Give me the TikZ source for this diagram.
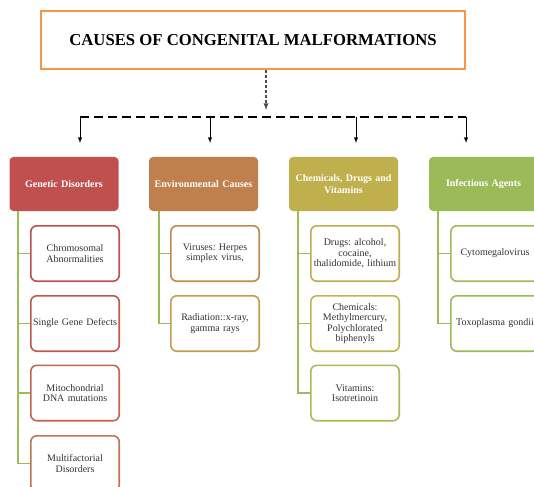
\documentclass[tikz,border=0pt]{standalone}
\usepackage{fontspec}
\setmainfont{Liberation Serif}
\usetikzlibrary{positioning, arrows, calc}
\frenchspacing

\definecolor{titleorange}{HTML}{F79646}
\definecolor{genred}{HTML}{C0504D}
\definecolor{envbrown}{HTML}{C0804D}
\definecolor{chemolive}{HTML}{BFB04D}
\definecolor{infgreen}{HTML}{9BBB59}
\definecolor{leaftext}{HTML}{333333}
% leaf borders, red to green
\definecolor{edgeA}{HTML}{C0504D}
\definecolor{edgeB}{HTML}{C0584D}
\definecolor{edgeC}{HTML}{C0664D}
\definecolor{edgeD}{HTML}{C0744D}
\definecolor{edgeE}{HTML}{C08A4D}
\definecolor{edgeF}{HTML}{C09E4D}
\definecolor{edgeG}{HTML}{BFAC4D}
\definecolor{edgeH}{HTML}{B9B84F}
\definecolor{edgeI}{HTML}{A8BB55}
\definecolor{edgeJ}{HTML}{9FBB59}
\definecolor{edgeK}{HTML}{9BBB59}

\tikzset{
  head/.style={rectangle, rounded corners=4pt, minimum width=109pt, minimum height=54pt,
    text width=104pt, align=center, text=white, inner sep=1pt,
    font=\bfseries\fontsize{10}{11.5}\selectfont},
  leaf/.style={rectangle, rounded corners=6pt, draw=#1, line width=1.6pt, fill=white,
    minimum width=88.4pt, minimum height=55.4pt, text width=86pt, align=center,
    text=leaftext, inner sep=1pt, font=\fontsize{10}{10.5}\selectfont},
  branch/.style={draw=infgreen, line width=1.8pt},
}

\begin{document}
\begin{tikzpicture}[x=1pt, y=-1pt]
\clip (0,0) rectangle (534,486);

% title and the dashed fan-out
\node [rectangle, draw=titleorange, line width=1.6pt, minimum width=424pt, minimum height=58pt,
  font=\bfseries\fontsize{16.7}{18}\selectfont] (title) at (253,40) {CAUSES OF CONGENITAL MALFORMATIONS};
\coordinate (hub) at (266,110);
\coordinate (bus-gen) at (80,117);
\coordinate (bus-env) at (210,117);
\coordinate (bus-chem) at (356,117);
\coordinate (bus-inf) at (466,117);
\coordinate (tip-gen) at (80,143);
\coordinate (tip-env) at (210,143);
\coordinate (tip-chem) at (356,143);
\coordinate (tip-inf) at (466,143);
\draw [-latex, black!70, line width=1.3pt, dash pattern=on 3pt off 2pt] (title.south -| hub) -- (hub);
\draw [black, line width=1.8pt, dash pattern=on 9pt off 5pt] (bus-gen) -- (bus-inf);
\draw [-latex, line width=0.9pt] (bus-gen) -- (tip-gen);
\draw [-latex, line width=0.9pt] (bus-env) -- (tip-env);
\draw [-latex, line width=0.9pt] (bus-chem) -- (tip-chem);
\draw [-latex, line width=0.9pt] (bus-inf) -- (tip-inf);

% column heads
\node [head, fill=genred] (gen) at (64,184) {Genetic Disorders};
\node [head, fill=envbrown] (env) at (203.5,184) {Environmental Causes};
\node [head, fill=chemolive] (chem) at (343.5,184) {Chemicals, Drugs and\\Vitamins};
\node [head, fill=infgreen] (inf) at (483.5,184) {Infectious Agents};

% genetic
\node [leaf=edgeA] (gen1) at (75,253.5) {Chromosomal\\Abnormalities};
\node [leaf=edgeB] (gen2) at (75,323.5) {Single Gene Defects};
\node [leaf=edgeC] (gen3) at (75,393) {Mitochondrial\\DNA mutations};
\node [leaf=edgeD] (gen4) at (75,463.5) {Multifactorial\\Disorders};

% environmental
\node [leaf=edgeE] (env1) at (215,253.5) {Viruses: Herpes\\simplex virus,};
\node [leaf=edgeF] (env2) at (215,323.5) {Radiation::x-ray,\\gamma rays};

% chemicals
\node [leaf=edgeG] (chem1) at (355,253.5) {Drugs: alcohol,\\cocaine,\\thalidomide, lithium};
\node [leaf=edgeH] (chem2) at (355,323.5) {Chemicals:\\Methylmercury,\\Polychlorated\\biphenyls};
\node [leaf=edgeI] (chem3) at (355,393) {Vitamins:\\Isotretinoin};

% infectious
\node [leaf=edgeJ] (inf1) at (495,253.5) {Cytomegalovirus};
\node [leaf=edgeK] (inf2) at (495,323.5) {Toxoplasma gondii};

% green tree lines
\draw [branch] ([xshift=9pt]gen.south west) |- (gen1.west);
\draw [branch] ([xshift=9pt]gen.south west) |- (gen2.west);
\draw [branch] ([xshift=9pt]gen.south west) |- (gen3.west);
\draw [branch] ([xshift=9pt]gen.south west) |- (gen4.west);
\draw [branch] ([xshift=10pt]env.south west) |- (env1.west);
\draw [branch] ([xshift=10pt]env.south west) |- (env2.west);
\draw [branch] ([xshift=9pt]chem.south west) |- (chem1.west);
\draw [branch] ([xshift=9pt]chem.south west) |- (chem2.west);
\draw [branch] ([xshift=9pt]chem.south west) |- (chem3.west);
\draw [branch] ([xshift=9pt]inf.south west) |- (inf1.west);
\draw [branch] ([xshift=9pt]inf.south west) |- (inf2.west);
\end{tikzpicture}
\end{document}
